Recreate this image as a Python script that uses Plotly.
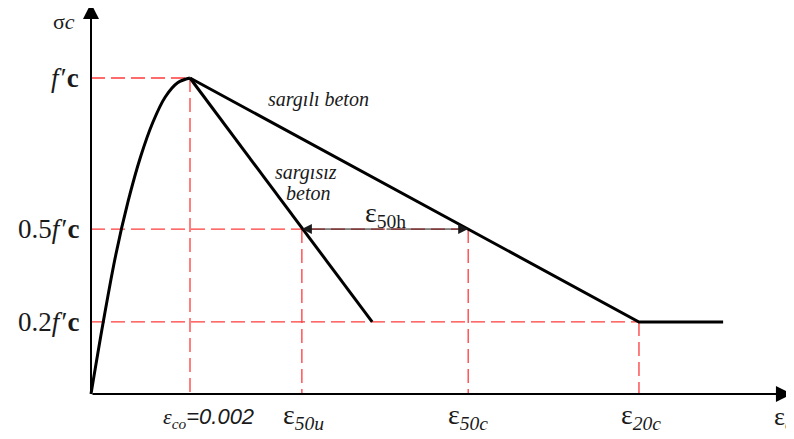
import plotly.graph_objects as go

# stress is normalised by f'c, strain in mm/mm
eps_asc = [0, 0.00025, 0.0005, 0.00075, 0.001, 0.00125, 0.0015, 0.00175, 0.002]
sig_asc = [0, 0.23, 0.44, 0.61, 0.75, 0.86, 0.94, 0.985, 1.0]

eps_unconf = [0.002, 0.00568]
sig_unconf = [1.0, 0.228]

eps_conf = [0.002, 0.01107, 0.01277]
sig_conf = [1.0, 0.228, 0.228]

eps_co, eps_50u, eps_50c, eps_20c = 0.002, 0.00426, 0.00762, 0.01107
lvl_fc, lvl_50, lvl_20 = 1.0, 0.522, 0.228
eps_axis_end, sig_axis_end = 0.01416, 1.237

RED = "#ff3b3b"
INK = "#1a1a1a"
SERIF = "Liberation Serif, Times New Roman, serif"

fig = go.Figure()

# red dashed guide lines
guides = [
    ([0, eps_co], [lvl_fc, lvl_fc]),
    ([eps_co, eps_co], [lvl_fc, 0]),
    ([0, eps_50c], [lvl_50, lvl_50]),
    ([eps_50u, eps_50u], [lvl_50, 0]),
    ([eps_50c, eps_50c], [lvl_50, 0]),
    ([0, eps_20c], [lvl_20, lvl_20]),
    ([eps_20c, eps_20c], [lvl_20, 0]),
]
for gx, gy in guides:
    fig.add_trace(go.Scatter(
        x=gx, y=gy, mode="lines", hoverinfo="skip",
        line=dict(color=RED, width=1.3, dash="14px,6px"),
    ))

# stress-strain curves
fig.add_trace(go.Scatter(x=eps_asc, y=sig_asc, mode="lines",
                         line=dict(color="black", width=3, shape="spline")))
fig.add_trace(go.Scatter(x=eps_unconf, y=sig_unconf, mode="lines",
                         line=dict(color="black", width=3)))
fig.add_trace(go.Scatter(x=eps_conf, y=sig_conf, mode="lines",
                         line=dict(color="black", width=3)))

# axes with arrow heads
axis_arrow = dict(xref="x", yref="y", axref="x", ayref="y", text="",
                  showarrow=True, arrowhead=2, arrowsize=1.6,
                  arrowwidth=2, arrowcolor="black")
fig.add_annotation(x=eps_axis_end, y=0, ax=0, ay=0, **axis_arrow)
fig.add_annotation(x=0, y=sig_axis_end, ax=0, ay=0, **axis_arrow)

# eps50h dimension arrow
for tip, tail in [(eps_50u, eps_50c), (eps_50c, eps_50u)]:
    fig.add_annotation(x=tip, y=lvl_50, ax=(tip + tail) / 2, ay=lvl_50,
                       xref="x", yref="y", axref="x", ayref="y", text="",
                       showarrow=True, arrowhead=2, arrowsize=2,
                       arrowwidth=1, arrowcolor=INK)

# the page body adds an 8px margin, so the figure is 8px smaller and
# label positions below are given in window pixels minus that offset
OFF = 8
W, H = 794 - OFF, 439 - OFF


def label(x, y, text, size=20, family=SERIF, xanchor="center"):
    fig.add_annotation(x=(x - OFF) / W, y=1 - (y - OFF) / H,
                       xref="paper", yref="paper", text=text,
                       showarrow=False, xanchor=xanchor, yanchor="middle",
                       font=dict(family=family, size=size, color=INK))


# y-axis labels
label(64, 21, "σ<i>c</i>", size=22)
label(81, 78, "<i>f</i>\u200a′<b>c</b>", size=27, xanchor="right")
label(81, 229, "0.5<i>f</i>\u200a′<b>c</b>", size=27, xanchor="right")
label(81, 322, "0.2<i>f</i>\u200a′<b>c</b>", size=27, xanchor="right")

# x-axis labels
label(209, 418, "<i>ε<sub>co</sub></i><span style='font-family:Liberation Sans'><i>=0.002</i></span>", size=22)
label(303, 416, "ε<i><sub>50u</sub></i>", size=28)
label(468, 416, "ε<i><sub>50c</sub></i>", size=28)
label(641, 416, "ε<i><sub>20c</sub></i>", size=28)
label(772, 418, "ε<i><sub>c</sub></i>", size=26, xanchor="left")

# curve labels
label(318, 100, "<i>sargılı beton</i>", size=20)
label(306, 172, "<i>sargısız</i>", size=20)
label(308, 193, "<i>beton</i>", size=20)
label(385, 214, "ε<sub>50h</sub>", size=28)

x0 = -(91 - OFF) / 99 * 0.002
x1 = (794 - 91) / 99 * 0.002
y0 = -(439 - 394) / 316
y1 = (394 - OFF) / 316

fig.update_layout(
    width=W, height=H,
    margin=dict(l=0, r=0, t=0, b=0),
    plot_bgcolor="white", paper_bgcolor="white",
    showlegend=False,
    xaxis=dict(range=[x0, x1], visible=False, fixedrange=True),
    yaxis=dict(range=[y0, y1], visible=False, fixedrange=True),
)

fig.write_html("out.html")
